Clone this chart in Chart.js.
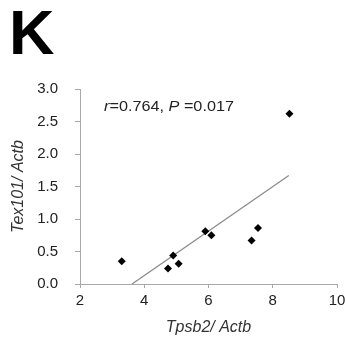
<!DOCTYPE html>
<html>
<head>
<meta charset="utf-8">
<script src="https://cdn.jsdelivr.net/npm/chart.js@4"></script>
<style>
  html, body { margin: 0; padding: 0; background: #fff; }
  #wrap { width: 345px; height: 347px; position: relative; }
</style>
</head>
<body>
<div id="wrap"><canvas id="chartK" width="345" height="347"></canvas></div>
<script>
// data
const tpsb2 = [3.30, 4.74, 4.90, 5.07, 5.90, 6.09, 7.34, 7.54, 8.52];
const tex101 = [0.35, 0.24, 0.44, 0.31, 0.81, 0.75, 0.67, 0.86, 2.62];
// regression line end points
const fitX = [3.62, 8.50];
const fitY = [0.00, 1.67];
const xTicks = [2, 4, 6, 8, 10];
const yTicks = [0.0, 0.5, 1.0, 1.5, 2.0, 2.5, 3.0];

const FONT = "'Liberation Sans', Arial, sans-serif";
const AXIS = "#a8a8a8";

// panel letter and the r / P annotation
const extras = {
    id: "extras",
    afterDraw(chart) {
        const ctx = chart.ctx;
        ctx.save();
        ctx.fillStyle = "#000";
        ctx.font = "bold 63px " + FONT;
        ctx.textBaseline = "alphabetic";
        ctx.fillText("K", 9, 54);

        const parts = [
            ["r", "italic"], ["=0.764, ", ""], ["P", "italic"], [" =0.017", ""]
        ];
        ctx.fillStyle = "#222";
        ctx.textBaseline = "middle";
        let w = 0;
        parts.forEach(p => { ctx.font = p[1] + " 15px " + FONT; w += ctx.measureText(p[0]).width; });
        const sx = 130 / w;
        ctx.translate(104, 107);
        ctx.scale(sx, 1);
        let x = 0;
        parts.forEach(p => {
            ctx.font = p[1] + " 15px " + FONT;
            ctx.fillText(p[0], x, 0);
            x += ctx.measureText(p[0]).width;
        });
        ctx.restore();
    }
};

new Chart(document.getElementById("chartK"), {
    type: "scatter",
    data: {
        datasets: [{
            data: tpsb2.map((x, i) => ({ x: x, y: tex101[i] })),
            pointStyle: "rectRot",
            pointRadius: 4,
            backgroundColor: "#000",
            borderColor: "#000",
            borderWidth: 0
        }, {
            type: "line",
            data: fitX.map((x, i) => ({ x: x, y: fitY[i] })),
            borderColor: "#8c8c8c",
            borderWidth: 1.3,
            pointRadius: 0,
            fill: false
        }]
    },
    options: {
        responsive: false,
        animation: false,
        layout: { padding: { top: 89, right: 8, left: 0, bottom: 0 } },
        plugins: { legend: { display: false }, tooltip: { enabled: false } },
        scales: {
            x: {
                type: "linear",
                min: 2, max: 10,
                afterFit(s) { s.height = 63; s.paddingLeft = 0; s.paddingRight = 0; },
                afterBuildTicks(s) { s.ticks = xTicks.map(v => ({ value: v })); },
                border: { color: AXIS, width: 1 },
                grid: { drawOnChartArea: false, drawTicks: true, tickLength: 4, color: AXIS },
                ticks: { color: "#222", padding: 4, font: { family: FONT, size: 15 } },
                title: {
                    display: true, text: "Tpsb2/ Actb", color: "#333",
                    font: { family: FONT, size: 16, style: "italic" },
                    padding: { top: 0, bottom: 10 }
                }
            },
            y: {
                min: 0, max: 3,
                afterFit(s) { s.width = 80; s.paddingTop = 0; s.paddingBottom = 0; },
                afterBuildTicks(s) { s.ticks = yTicks.map(v => ({ value: v })); },
                border: { color: AXIS, width: 1 },
                grid: { drawOnChartArea: false, drawTicks: true, tickLength: 5, color: AXIS },
                ticks: {
                    color: "#222", padding: 17,
                    font: { family: FONT, size: 15 },
                    callback: v => Number(v).toFixed(1)
                },
                title: {
                    display: true, text: "Tex101/ Actb", color: "#333",
                    font: { family: FONT, size: 16, style: "italic" },
                    padding: { top: 9, bottom: 0 }
                }
            }
        }
    },
    plugins: [extras]
});
</script>
</body>
</html>
